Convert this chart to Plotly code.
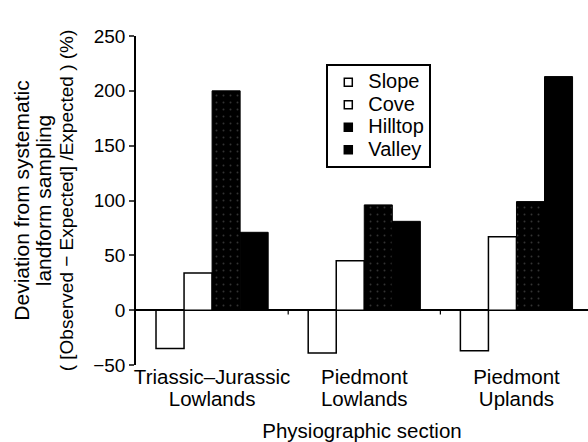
import plotly.graph_objects as go

categories = ["Triassic–Jurassic<br>Lowlands", "Piedmont<br>Lowlands", "Piedmont<br>Uplands"]
series_names = ["Slope", "Cove", "Hilltop", "Valley"]
slope = [-35, -39, -37]
cove = [34, 45, 67]
hilltop = [200, 96, 99]
valley = [71, 81, 213]
y_ticks = [-50, 0, 50, 100, 150, 200, 250]

FONT = "Liberation Sans, Arial, Helvetica, sans-serif"

fills = ["white", "white", "black", "black"]
values = [slope, cove, hilltop, valley]


def big(text, px):
    return "<br>".join(f"<span style='font-size:{px}px'>{part}</span>" for part in text.split("<br>"))


fig = go.Figure()
for name, vals, fill in zip(series_names, values, fills):
    marker = dict(color=fill, line=dict(color="black", width=1.5 if fill == "white" else 1))
    if name == "Hilltop":
        marker["pattern"] = dict(shape=".", bgcolor="black", fgcolor="#666666",
                                 size=7, solidity=0.06)
    fig.add_trace(go.Bar(name=name, x=categories, y=vals, marker=marker,
                         showlegend=False, legendgroup=name))

# legend entries with small square swatches
for name, fill in zip(series_names, fills):
    fig.add_trace(go.Scatter(name=big(name, 20), x=[None], y=[None], mode="markers",
                             legendgroup=name,
                             marker=dict(symbol="square", size=8, color=fill,
                                         line=dict(color="black", width=1.5))))

# small tick marks on the zero line at the boundaries between groups
for i in range(len(categories) - 1):
    fig.add_shape(type="line", xref="x", yref="y", x0=i + 0.5, x1=i + 0.5, y0=0, y1=-4,
                  line=dict(color="black", width=1.2))

ytitle = ("<span style='font-size:21px'>Deviation from systematic</span><br>"
          "<span style='font-size:21px'>landform sampling</span><br>"
          "<span style='font-size:19px'>( [Observed − Expected] /Expected ) (%)</span>")

fig.update_layout(
    width=588, height=442,
    margin=dict(l=136, r=0, t=36, b=77),
    paper_bgcolor="white", plot_bgcolor="white",
    barmode="group", bargap=0.263, bargroupgap=0,
    font=dict(family=FONT, size=19, color="black"),
    showlegend=True,
    legend=dict(x=0.421, y=0.915, xanchor="left", yanchor="top",
                bordercolor="black", borderwidth=2, bgcolor="white",
                font=dict(size=15), tracegroupgap=0, itemwidth=30),
    xaxis=dict(range=[-0.5, 2.47], showline=False, ticks="", showgrid=False,
               zeroline=False, tickfont=dict(size=17.5),
               tickmode="array", tickvals=categories,
               ticktext=[big(c, 20.5) for c in categories],
               title=dict(text="Physiographic section", font=dict(size=20.5), standoff=14)),
    yaxis=dict(range=[-50, 250], tickvals=y_ticks, showline=True, linecolor="black",
               linewidth=1.5, ticks="outside", ticklen=5, tickwidth=1.5, showgrid=False,
               zeroline=True, zerolinecolor="black", zerolinewidth=1.5,
               tickfont=dict(size=19),
               title=dict(text=ytitle, font=dict(size=17), standoff=15)),
)

fig.write_html("out.html")
